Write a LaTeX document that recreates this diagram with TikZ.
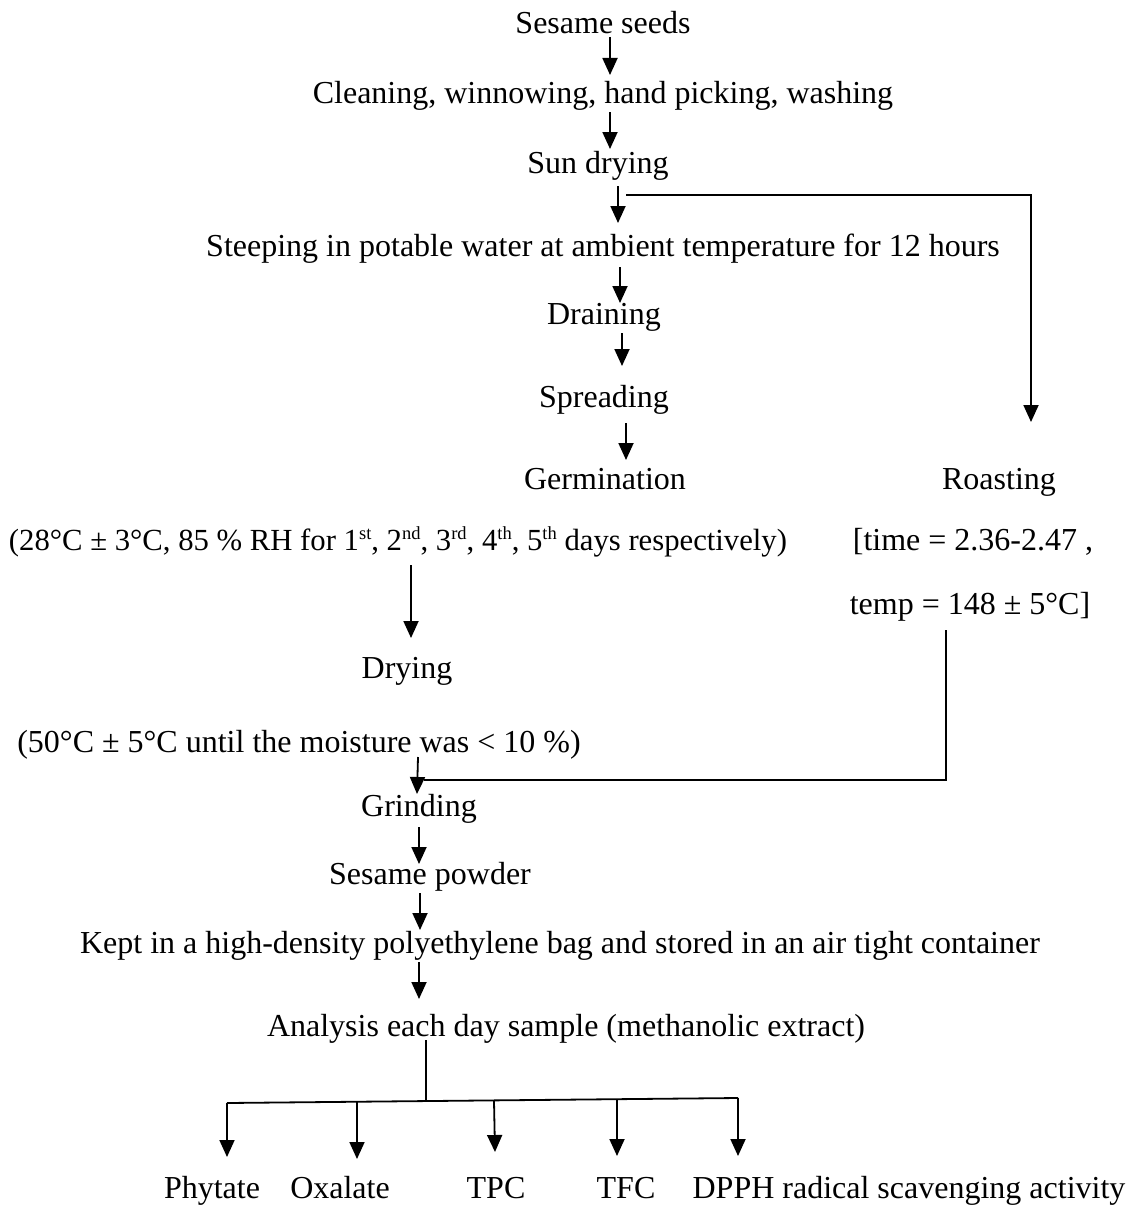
\documentclass[tikz,border=0pt]{standalone}
\usepackage{fontspec}
\setmainfont{Liberation Serif}
\usetikzlibrary{arrows.meta}
\newcommand{\mysup}[1]{\raisebox{10.5pt}{\fontsize{18.5pt}{18.5pt}\selectfont #1}}
\begin{document}
\begin{tikzpicture}[x=1pt,y=-1pt,
  lbl/.style={anchor=base,inner sep=0pt,font=\fontsize{32pt}{36pt}\selectfont},
  arr/.style={line width=1.8pt,-{Triangle[length=17pt,width=15pt]}},
  ln/.style={line width=1.8pt}]
\useasboundingbox (0,0) rectangle (1130,1207);
% text nodes
\node[lbl] (ss) at (603,34) {Sesame seeds};
\node[lbl] (cl) at (603,103) {Cleaning, winnowing, hand picking, washing};
\node[lbl] (sd) at (598,173) {Sun drying};
\node[lbl] (st) at (603,256) {Steeping in potable water at ambient temperature for 12 hours};
\node[lbl] (dr) at (604,324) {Draining};
\node[lbl] (sp) at (604,407) {Spreading};
\node[lbl] (ge) at (605,489) {Germination};
\node[lbl] (ro) at (999,489) {Roasting};
\node[lbl,font=\fontsize{30.7pt}{36pt}\selectfont] (c1) at (398,550) {(28°C ± 3°C, 85 \% RH for 1\mysup{st}, 2\mysup{nd}, 3\mysup{rd}, 4\mysup{th}, 5\mysup{th} days respectively)};
\node[lbl] (c2) at (973,550) {[time = 2.36-2.47 ,};
\node[lbl] (c3) at (970,614) {temp = 148 ± 5°C]};
\node[lbl] (dy) at (407,678) {Drying};
\node[lbl] (c4) at (299,752) {(50°C ± 5°C until the moisture was < 10 \%)};
\node[lbl] (gr) at (419,816) {Grinding};
\node[lbl] (pw) at (430,884) {Sesame powder};
\node[lbl] (kp) at (560,953) {Kept in a high-density polyethylene bag and stored in an air tight container};
\node[lbl] (an) at (566,1036) {Analysis each day sample (methanolic extract)};
\node[lbl] (o1) at (212,1198) {Phytate};
\node[lbl] (o2) at (340,1198) {Oxalate};
\node[lbl] (o3) at (496,1198) {TPC};
\node[lbl] (o4) at (626,1198) {TFC};
\node[lbl] (o5) at (909,1198) {DPPH radical scavenging activity};
% connector coordinates
\coordinate (a1s) at (610,37);  \coordinate (a1e) at (610,75);
\coordinate (a2s) at (610,112); \coordinate (a2e) at (610,149);
\coordinate (a3s) at (618,186); \coordinate (a3e) at (618,223);
\coordinate (b1) at (626,195);  \coordinate (b2) at (1031,195); \coordinate (b3) at (1031,422);
\coordinate (a4s) at (620,267); \coordinate (a4e) at (620,303);
\coordinate (a5s) at (622,333); \coordinate (a5e) at (622,366);
\coordinate (a6s) at (626,423); \coordinate (a6e) at (626,460);
\coordinate (a7s) at (411,565); \coordinate (a7e) at (411,638);
\coordinate (r1) at (946,630);  \coordinate (r2) at (946,780); \coordinate (r3) at (424,780);
\coordinate (a8s) at (418,757); \coordinate (a8e) at (417,794);
\coordinate (a9s) at (419,827); \coordinate (a9e) at (419,864);
\coordinate (a10s) at (420,893); \coordinate (a10e) at (420,930);
\coordinate (a11s) at (419,962); \coordinate (a11e) at (419,999);
\coordinate (t1) at (426,1040); \coordinate (t2) at (426,1101);
\coordinate (h1) at (227,1103); \coordinate (h5) at (738,1098);
\coordinate (h2) at (357,1102); \coordinate (h3) at (494,1101); \coordinate (h4) at (617,1099);
\coordinate (e1) at (227,1157); \coordinate (e2) at (357,1159); \coordinate (e3) at (495,1152);
\coordinate (e4) at (617,1156); \coordinate (e5) at (738,1156);
% connectors
\draw[arr] (a1s) -- (a1e);
\draw[arr] (a2s) -- (a2e);
\draw[arr] (a3s) -- (a3e);
\draw[arr] (b1) -- (b2) -- (b3);
\draw[arr] (a4s) -- (a4e);
\draw[arr] (a5s) -- (a5e);
\draw[arr] (a6s) -- (a6e);
\draw[arr] (a7s) -- (a7e);
\draw[ln] (r1) -- (r2) -- (r3);
\draw[arr] (a8s) -- (a8e);
\draw[arr] (a9s) -- (a9e);
\draw[arr] (a10s) -- (a10e);
\draw[arr] (a11s) -- (a11e);
\draw[ln] (t1) -- (t2);
\draw[ln] (h1) -- (h5);
\draw[arr] (h1) -- (e1);
\draw[arr] (h2) -- (e2);
\draw[arr] (h3) -- (e3);
\draw[arr] (h4) -- (e4);
\draw[arr] (h5) -- (e5);
\end{tikzpicture}
\end{document}
